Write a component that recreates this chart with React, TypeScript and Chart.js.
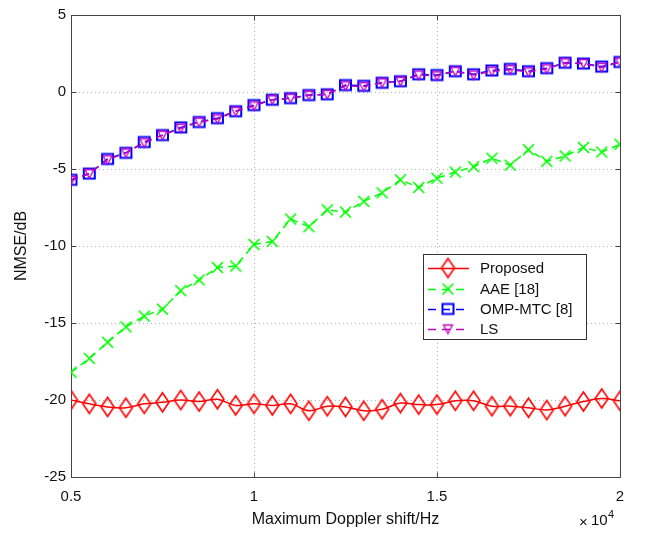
import React, { useEffect, useRef } from "react";
import { Chart, registerables } from "chart.js";
Chart.register(...registerables);

const dopplerHz = [5000, 5500, 6000, 6500, 7000, 7500, 8000, 8500, 9000, 9500, 10000, 10500, 11000, 11500, 12000, 12500, 13000, 13500, 14000, 14500, 15000, 15500, 16000, 16500, 17000, 17500, 18000, 18500, 19000, 19500, 20000];
const proposed = [-20.0, -20.25, -20.45, -20.5, -20.25, -20.15, -20.0, -20.1, -19.95, -20.35, -20.25, -20.35, -20.25, -20.7, -20.4, -20.45, -20.7, -20.6, -20.2, -20.3, -20.3, -20.05, -20.05, -20.4, -20.4, -20.5, -20.65, -20.4, -20.1, -19.9, -20.05];
const aae = [-18.2, -17.3, -16.25, -15.25, -14.55, -14.1, -12.9, -12.2, -11.4, -11.3, -9.9, -9.7, -8.25, -8.75, -7.65, -7.8, -7.1, -6.55, -5.7, -6.2, -5.6, -5.2, -4.85, -4.3, -4.75, -3.75, -4.5, -4.15, -3.6, -3.9, -3.4];
const ompMtc = [-5.7, -5.3, -4.35, -3.95, -3.25, -2.8, -2.3, -1.95, -1.7, -1.25, -0.85, -0.5, -0.4, -0.2, -0.15, 0.45, 0.4, 0.6, 0.7, 1.15, 1.1, 1.35, 1.15, 1.4, 1.5, 1.35, 1.55, 1.9, 1.85, 1.65, 1.95];
const ls = [-5.75, -5.3, -4.4, -3.95, -3.3, -2.8, -2.35, -1.95, -1.75, -1.25, -0.9, -0.5, -0.4, -0.2, -0.15, 0.4, 0.35, 0.6, 0.7, 1.1, 1.05, 1.35, 1.1, 1.35, 1.45, 1.3, 1.5, 1.9, 1.85, 1.6, 1.95];
const seriesNames = ["Proposed", "AAE [18]", "OMP-MTC [8]", "LS"];
const xTicks = [5000, 10000, 15000, 20000];
const xTickLabels = ["0.5", "1", "1.5", "2"];
const yTicks = [5, 0, -5, -10, -15, -20, -25];

const FONT = '"Liberation Sans", Arial, Helvetica, sans-serif';
const RED = "#ff0000";
const GREEN = "#00ff00";
const BLUE = "#0000ff";
const MAGENTA = "#c000c0";

function makeMarker(w: number, h: number, draw: (ctx: CanvasRenderingContext2D) => void) {
  const c = document.createElement("canvas");
  c.width = w;
  c.height = h;
  const ctx = c.getContext("2d")!;
  draw(ctx);
  return c;
}

export default function App() {
  const ref = useRef<HTMLCanvasElement>(null);
  useEffect(() => {
    document.body.style.margin = "0";
    const diamond = makeMarker(17, 23, (ctx) => {
      ctx.strokeStyle = RED;
      ctx.lineWidth = 1.6;
      ctx.beginPath();
      ctx.moveTo(8.5, 2);
      ctx.lineTo(15, 11.5);
      ctx.lineTo(8.5, 21);
      ctx.lineTo(2, 11.5);
      ctx.closePath();
      ctx.stroke();
    });
    const cross = makeMarker(15, 15, (ctx) => {
      ctx.strokeStyle = GREEN;
      ctx.lineWidth = 1.7;
      ctx.beginPath();
      ctx.moveTo(2, 2);
      ctx.lineTo(13, 13);
      ctx.moveTo(13, 2);
      ctx.lineTo(2, 13);
      ctx.stroke();
    });
    const square = makeMarker(15, 15, (ctx) => {
      ctx.strokeStyle = BLUE;
      ctx.lineWidth = 2;
      ctx.strokeRect(2, 2.5, 11, 10);
    });
    const tri = makeMarker(13, 13, (ctx) => {
      ctx.strokeStyle = MAGENTA;
      ctx.lineWidth = 1.3;
      ctx.beginPath();
      ctx.moveTo(2, 2.5);
      ctx.lineTo(11, 2.5);
      ctx.lineTo(6.5, 11);
      ctx.closePath();
      ctx.stroke();
    });
    const markers = [diamond, cross, square, tri];
    const colors = [RED, GREEN, BLUE, MAGENTA];
    const dashes = [[], [7, 5], [7, 5], [7, 5]];
    const allData = [proposed, aae, ompMtc, ls];

    const framePlugin = {
      id: "frame",
      beforeDatasetsDraw(chart: any) {
        const { ctx, chartArea: a, scales } = chart;
        ctx.save();
        ctx.strokeStyle = "#b4b4b4";
        ctx.lineWidth = 1;
        ctx.setLineDash([1, 3]);
        for (const v of xTicks) {
          const x = Math.round(scales.x.getPixelForValue(v)) + 0.5;
          ctx.beginPath();
          ctx.moveTo(x, a.top);
          ctx.lineTo(x, a.bottom);
          ctx.stroke();
        }
        for (const v of yTicks) {
          const y = Math.round(scales.y.getPixelForValue(v)) + 0.5;
          ctx.beginPath();
          ctx.moveTo(a.left, y);
          ctx.lineTo(a.right, y);
          ctx.stroke();
        }
        ctx.setLineDash([]);
        ctx.strokeStyle = "#444";
        ctx.lineWidth = 1;
        const L = Math.round(a.left) + 0.5, R = Math.round(a.right) + 0.5;
        const T = Math.round(a.top) + 0.5, B = Math.round(a.bottom) + 0.5;
        ctx.strokeRect(L, T, R - L, B - T);
        ctx.beginPath();
        for (const v of xTicks) {
          const x = Math.round(scales.x.getPixelForValue(v)) + 0.5;
          ctx.moveTo(x, B); ctx.lineTo(x, B - 5);
          ctx.moveTo(x, T); ctx.lineTo(x, T + 5);
        }
        for (const v of yTicks) {
          const y = Math.round(scales.y.getPixelForValue(v)) + 0.5;
          ctx.moveTo(L, y); ctx.lineTo(L + 5, y);
          ctx.moveTo(R, y); ctx.lineTo(R - 5, y);
        }
        ctx.stroke();
        ctx.restore();
      },
      afterDraw(chart: any) {
        const { ctx, chartArea: a } = chart;
        ctx.save();
        ctx.fillStyle = "#111";
        ctx.font = `16px ${FONT}`;
        ctx.textAlign = "center";
        ctx.textBaseline = "middle";
        ctx.fillText("Maximum Doppler shift/Hz", (a.left + a.right) / 2, 520);
        ctx.textAlign = "left";
        ctx.font = `15px ${FONT}`;
        ctx.fillText("\u00d7", 579, 523);
        ctx.fillText("10", 591, 521);
        ctx.font = `11px ${FONT}`;
        ctx.fillText("4", 608, 515);
        ctx.save();
        ctx.translate(22, (a.top + a.bottom) / 2);
        ctx.rotate(-Math.PI / 2);
        ctx.font = `16px ${FONT}`;
        ctx.textAlign = "center";
        ctx.fillText("NMSE/dB", 0, 0);
        ctx.restore();

        // legend
        const bx = 423, by = 254, bw = 163, bh = 85;
        ctx.fillStyle = "#fff";
        ctx.fillRect(bx, by, bw, bh);
        ctx.strokeStyle = "#333";
        ctx.lineWidth = 1;
        ctx.strokeRect(bx + 0.5, by + 0.5, bw, bh);
        const rows = [268, 289, 309, 329];
        ctx.font = `15px ${FONT}`;
        ctx.textBaseline = "middle";
        for (let i = 0; i < 4; i++) {
          const y = rows[i];
          ctx.strokeStyle = colors[i];
          ctx.lineWidth = 1.5;
          ctx.setLineDash(dashes[i].length ? [8, 6] : []);
          ctx.beginPath();
          ctx.moveTo(428, y + 0.5);
          ctx.lineTo(469, y + 0.5);
          ctx.stroke();
          ctx.setLineDash([]);
          const m = markers[i];
          ctx.fillStyle = "#fff";
          ctx.drawImage(m, 448 - m.width / 2, y - m.height / 2);
          ctx.fillStyle = "#111";
          ctx.textAlign = "left";
          ctx.fillText(seriesNames[i], 480, y + 1);
        }
        ctx.restore();
      },
    };

    const chart = new Chart(ref.current!, {
      type: "line",
      data: {
        datasets: allData.map((arr, i) => ({
          label: seriesNames[i],
          data: dopplerHz.map((x, j) => ({ x, y: arr[j] })),
          borderColor: colors[i],
          backgroundColor: colors[i],
          borderWidth: 1.5,
          borderDash: dashes[i],
          pointStyle: markers[i] as any,
          pointRadius: 7,
          tension: i === 0 ? 0.4 : 0,
          fill: false,
          order: 4 - i,
        })),
      },
      options: {
        animation: false,
        responsive: false,
        layout: { padding: { top: 15, right: 25, left: 0, bottom: 0 } },
        plugins: { legend: { display: false }, tooltip: { enabled: false } },
        scales: {
          x: {
            type: "linear",
            min: 5000,
            max: 20000,
            grid: { display: false, drawTicks: false },
            border: { display: false },
            afterBuildTicks: (s: any) => { s.ticks = xTicks.map((v) => ({ value: v })); },
            afterFit: (s: any) => { s.height = 56; },
            ticks: {
              padding: 11,
              maxRotation: 0,
              color: "#111",
              font: { family: FONT, size: 15 },
              callback: (v: any) => { const k = xTicks.indexOf(Number(v)); return k >= 0 ? xTickLabels[k] : ""; },
            },
          },
          y: {
            type: "linear",
            min: -25,
            max: 5,
            grid: { display: false, drawTicks: false },
            border: { display: false },
            afterBuildTicks: (s: any) => { s.ticks = yTicks.map((v) => ({ value: v })); },
            afterFit: (s: any) => { s.width = 71; },
            ticks: {
              padding: 5,
              color: "#111",
              font: { family: FONT, size: 15 },
              callback: (v: any) => String(v),
            },
          },
        },
      },
      plugins: [framePlugin],
    } as any);
    return () => chart.destroy();
  }, []);
  return <canvas ref={ref} width={645} height={533} style={{ display: "block", width: 645, height: 533 }} />;
}
